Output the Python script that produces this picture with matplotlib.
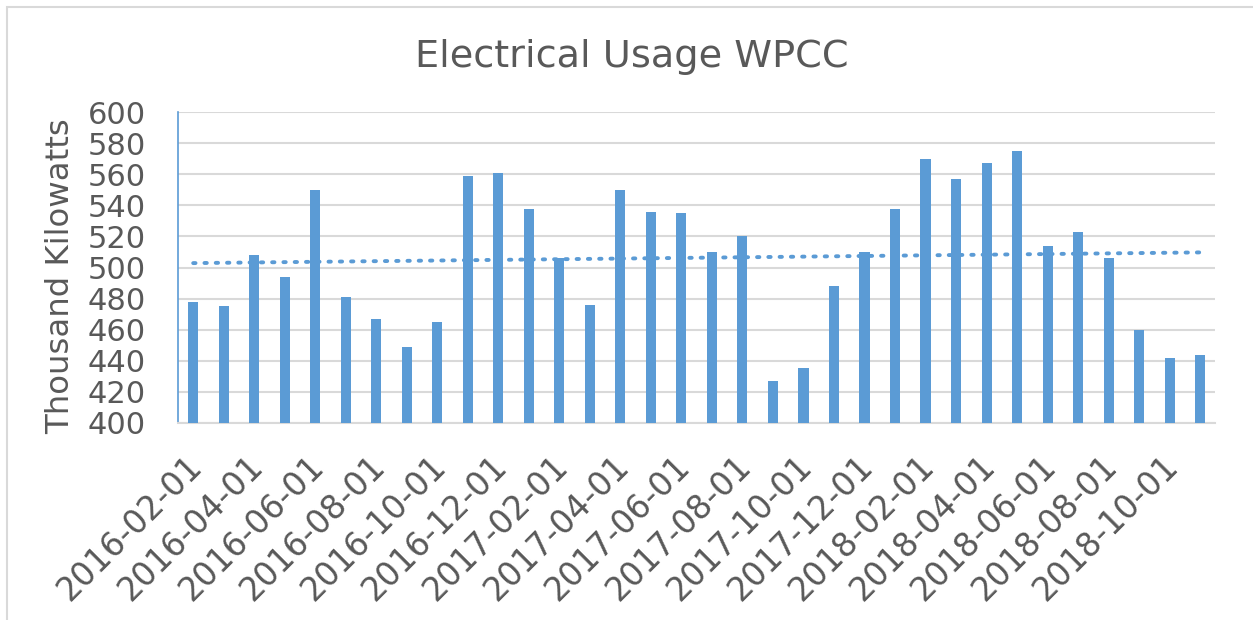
import numpy as np
import matplotlib
matplotlib.use("Agg")
import matplotlib.pyplot as plt
from matplotlib.patches import Rectangle
from matplotlib.transforms import ScaledTranslation

months = ['2016-02-01', '2016-03-01', '2016-04-01', '2016-05-01', '2016-06-01',
          '2016-07-01', '2016-08-01', '2016-09-01', '2016-10-01', '2016-11-01',
          '2016-12-01', '2017-01-01', '2017-02-01', '2017-03-01', '2017-04-01',
          '2017-05-01', '2017-06-01', '2017-07-01', '2017-08-01', '2017-09-01',
          '2017-10-01', '2017-11-01', '2017-12-01', '2018-01-01', '2018-02-01',
          '2018-03-01', '2018-04-01', '2018-05-01', '2018-06-01', '2018-07-01',
          '2018-08-01', '2018-09-01', '2018-10-01', '2018-11-01']
usage = [478, 475, 508, 494, 550, 481, 467, 449, 465, 559,
         561, 538, 506, 476, 550, 536, 535, 510, 520, 427,
         435, 488, 510, 538, 570, 557, 567, 575, 514, 523,
         506, 460, 442, 444]
y_ticks = [400, 420, 440, 460, 480, 500, 520, 540, 560, 580, 600]

bar_color = '#5B9BD5'
text_color = '#595959'
grid_color = '#D9D9D9'

fig = plt.figure(figsize=(12.53, 6.2), dpi=100)
ax = fig.add_axes([0.142, 0.318, 0.828, 0.501])

x = np.arange(len(months))
ax.bar(x, usage, width=0.33, color=bar_color, zorder=3)

# linear trendline like excel
k, b = np.polyfit(x, usage, 1)
ax.plot(x, k * x + b, color=bar_color, linestyle=(0, (0.6, 2.3)),
        linewidth=2.8, dash_capstyle='round', zorder=4)

ax.set_xlim(-0.5, len(months) - 0.5)
ax.set_ylim(400, 600)
ax.set_yticks(y_ticks)
ax.set_yticklabels([str(t) for t in y_ticks], fontsize=22, color=text_color)
ax.yaxis.grid(True, color=grid_color, linewidth=1.5, zorder=0)
ax.tick_params(axis='both', length=0)
ax.tick_params(axis='y', pad=23)

ax.set_xticks(x[::2])
ax.set_xticklabels(months[::2], rotation=45, ha='right', va='top',
                   rotation_mode='anchor', fontsize=23.5, color=text_color)
ax.tick_params(axis='x', pad=19)
shift = ScaledTranslation(-8 / 100, 0, fig.dpi_scale_trans)
for lbl in ax.get_xticklabels():
    lbl.set_transform(lbl.get_transform() + shift)

for s in ['top', 'right']:
    ax.spines[s].set_visible(False)
ax.spines['bottom'].set_color(grid_color)
ax.spines['bottom'].set_linewidth(1.5)
ax.spines['left'].set_color(bar_color)
ax.spines['left'].set_linewidth(1.2)

fig.text(61 / 1253, 1 - 276 / 620, 'Thousand Kilowatts', fontsize=23.3,
         color=text_color, rotation=90, ha='center', va='center')

fig.text(0.504, 1 - 67 / 620, 'Electrical Usage WPCC', fontsize=27.5,
         color=text_color, ha='center', va='baseline')

# chart border (only left and top visible in the crop)
fig.patches.append(Rectangle((7 / 1253, -0.1), 1.2, 1 - 7 / 620 + 0.1,
                             transform=fig.transFigure, fill=False,
                             edgecolor='#D9D9D9', linewidth=1.5))

fig.savefig('out.png', dpi=100)
